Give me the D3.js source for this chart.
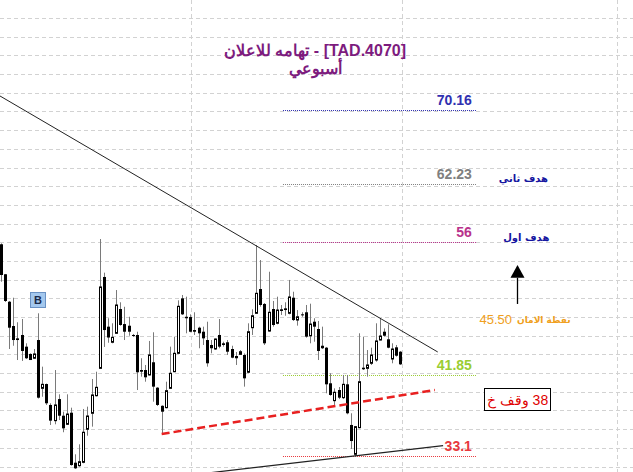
<!DOCTYPE html>
<html><head><meta charset="utf-8">
<script src="https://cdn.jsdelivr.net/npm/d3@7"></script>
<style>
html,body{margin:0;padding:0;background:#fff;}
svg{display:block;}
</style>
</head><body>
<svg id="c" width="633" height="472"></svg>
<script>
// ---------- data ----------
const openP  = [55.79,52.58,49.64,47.04,45.72,46.08,44.83,44.05,43.59,45.54,40.37,40.83,38.59,36.91,39.22,37.44,36.52,37.76,32.41,32.09,32.45,35.99,37.70,39.58,42.51,52.29,46.97,45.30,46.26,48.86,47.25,47.07,46.08,46.08,42.33,42.33,41.80,43.16,40.44,38.50,38.30,40.37,42.15,44.12,50.00,48.03,48.00,46.61,46.86,46.43,45.54,45.01,44.58,46.08,45.19,45.30,44.58,43.83,44.01,43.94,42.09,46.86,48.40,51.00,49.40,46.50,48.86,47.33,48.83,48.93,48.40,50.07,47.68,48.29,48.51,46.00,47.50,46.72,44.93,44.72,40.91,39.05,40.19,39.37,40.80,36.45,33.31,36.16,42.58,42.51,43.05,43.40,45.54,46.43,45.62,43.51,44.76,44.29];
const highP  = [55.89,52.61,49.72,50.07,47.44,47.79,45.19,44.12,44.58,48.40,42.69,40.88,38.77,42.33,39.73,37.87,39.73,38.30,33.31,34.38,38.16,38.41,41.37,42.15,56.35,52.75,47.87,47.33,50.89,49.58,49.10,48.03,46.19,46.43,43.59,42.87,45.44,46.37,40.50,38.55,41.08,44.83,45.90,49.79,50.36,50.18,48.29,48.51,46.97,46.97,47.50,45.54,45.70,47.79,45.36,45.54,44.93,44.26,44.47,44.10,47.33,48.83,55.71,54.10,49.50,52.85,49.72,50.18,49.29,49.58,51.97,50.71,48.75,48.51,49.29,49.43,47.87,47.58,46.97,44.79,41.98,40.37,40.51,41.80,41.80,37.70,36.34,46.26,45.90,44.47,44.72,47.33,47.79,46.79,47.22,45.19,45.01,44.37];
const lowP   = [51.78,49.61,44.58,44.93,43.40,43.30,43.51,43.40,43.51,39.28,39.47,38.59,36.45,36.52,36.98,35.67,36.45,32.09,31.74,31.98,32.35,35.30,36.27,39.50,42.45,44.80,45.25,45.19,46.20,47.07,45.54,46.00,45.87,40.19,41.62,41.08,41.75,38.94,38.48,35.45,38.23,40.30,42.10,44.05,48.22,46.26,46.37,46.08,44.66,45.01,42.69,44.12,44.50,44.66,44.83,43.94,43.59,42.87,43.94,40.55,42.00,46.08,48.35,49.11,45.01,46.43,46.97,47.22,48.22,48.14,48.29,47.58,47.08,48.03,45.79,45.19,45.36,43.40,44.58,39.84,39.58,38.59,39.22,39.22,37.59,33.88,33.05,36.10,42.33,41.62,42.87,43.22,45.50,45.90,44.66,43.05,43.76,42.87];
const closeP = [52.50,49.72,46.86,45.54,45.54,44.37,43.59,43.40,44.05,39.37,40.80,38.77,36.91,38.59,37.44,36.09,37.62,32.16,31.81,32.52,35.67,37.41,39.66,40.48,51.22,46.61,45.81,45.83,49.29,47.15,46.43,46.43,45.97,42.09,42.15,41.55,43.94,40.55,38.59,37.87,40.12,41.98,44.12,49.15,48.29,47.87,46.43,46.43,46.26,45.72,43.05,44.66,45.65,44.83,45.01,44.29,43.65,43.59,44.29,41.44,46.43,48.14,50.54,49.29,45.19,48.51,47.15,48.75,48.65,48.75,50.15,47.68,48.03,48.19,45.90,47.25,46.97,44.37,44.66,40.80,39.66,39.95,39.37,40.80,37.70,34.73,36.27,41.08,42.41,42.87,43.94,45.44,45.97,46.00,44.72,44.58,43.86,42.94];

const gridPrices = [32,34,36,38,40,42,44,46,48,50,52,54,56,58,60,62,64,66,68,70,72,74,76,78,80];
const vGridIdx = [46.08, 97.33, 149.55];

const levelValues = [70.16, 62.23, 56, 41.85, 33.1];
const levelLabels = ["70.16", "62.23", "56", "41.85", "33.1"];
const levelColors = ["#3030b0", "#808080", "#b8338c", "#9acd32", "#e8383d"];
const levelFrom = 68.5, levelTo = 115.6;

// trend lines: [index, price] pairs
const resistLine = [[-0.24, 71.66], [106.1, 44.26]];
const redDashLine = [[39.03, 35.48], [105.4, 40.19]];
const supportLine = [[45, 31.04], [107.4, 34.23]];

const titleLine1 = "[TAD.4070] - تهامه للاعلان";
const titleLine2 = "أسبوعي";

// ---------- scales ----------
const W = 633, H = 472;
const x = d3.scaleLinear().domain([0, 97]).range([1, 400.3]);
const y = d3.scaleLinear().domain([56, 70.16]).range([242.3, 110]);

const svg = d3.select("#c");
svg.append("rect").attr("width", W).attr("height", H).attr("fill", "#fff");

// grid
svg.append("g").selectAll("line").data(gridPrices).join("line")
  .attr("x1", 0).attr("x2", W)
  .attr("y1", d => Math.round(y(d)) + 0.5).attr("y2", d => Math.round(y(d)) + 0.5)
  .attr("stroke", "#d2d2d2").attr("stroke-dasharray", "4,3").attr("stroke-width", 1);
svg.append("g").selectAll("line").data(vGridIdx).join("line")
  .attr("x1", d => Math.round(x(d)) + 0.5).attr("x2", d => Math.round(x(d)) + 0.5)
  .attr("y1", 0).attr("y2", H)
  .attr("stroke", "#d2d2d2").attr("stroke-dasharray", "4,3").attr("stroke-width", 1);

// title
svg.append("text").attr("x", 315).attr("y", 56).attr("text-anchor", "middle").attr("direction", "rtl")
  .attr("font-family", "Liberation Sans, Arial, sans-serif").attr("font-size", 16).attr("font-weight", "bold")
  .attr("fill", "#7d1b7e").text(titleLine1);
svg.append("text").attr("x", 315).attr("y", 74).attr("text-anchor", "middle").attr("direction", "rtl")
  .attr("font-family", "Liberation Sans, Arial, sans-serif").attr("font-size", 16).attr("font-weight", "bold")
  .attr("fill", "#7d1b7e").text(titleLine2);

// level lines
const lv = svg.append("g");
levelValues.forEach((v, i) => {
  lv.append("line").attr("x1", x(levelFrom)).attr("x2", x(levelTo))
    .attr("y1", Math.round(y(v)) + 0.5).attr("y2", Math.round(y(v)) + 0.5)
    .attr("stroke", levelColors[i]).attr("stroke-width", 1).attr("stroke-dasharray", "1,1");
  lv.append("text").attr("x", x(levelTo) - 5).attr("y", y(v) - 5).attr("text-anchor", "end")
    .attr("font-family", "Liberation Sans, Arial, sans-serif").attr("font-size", 14).attr("font-weight", "bold")
    .attr("fill", levelColors[i]).text(levelLabels[i]);
});

// candles
const idx = d3.range(openP.length);
const cg = svg.append("g");
idx.forEach(i => {
  const cx = Math.round(x(i));
  const o = openP[i], c = closeP[i], h = highP[i], l = lowP[i];
  cg.append("line").attr("x1", cx + 0.5).attr("x2", cx + 0.5)
    .attr("y1", y(h)).attr("y2", y(l)).attr("stroke", "#7a7a7a").attr("stroke-width", 1);
  const top = y(Math.max(o, c)), bot = y(Math.min(o, c));
  if (c < o) {
    cg.append("rect").attr("x", cx - 1).attr("width", 3)
      .attr("y", top).attr("height", Math.max(1, bot - top)).attr("fill", "#000");
  } else {
    cg.append("rect").attr("x", cx - 0.5).attr("width", 2)
      .attr("y", top).attr("height", Math.max(1, bot - top))
      .attr("fill", "#fff").attr("stroke", "#000").attr("stroke-width", 1);
  }
});

// trend lines
const ln = d3.line().x(d => x(d[0])).y(d => y(d[1]));
svg.append("path").attr("d", ln(resistLine)).attr("fill", "none").attr("stroke", "#222").attr("stroke-width", 1);
svg.append("path").attr("d", ln(redDashLine)).attr("fill", "none").attr("stroke", "#e82020")
  .attr("stroke-width", 2.5).attr("stroke-dasharray", "8,4");
svg.append("path").attr("d", ln(supportLine)).attr("fill", "none").attr("stroke", "#222").attr("stroke-width", 1.2);

// B marker above candle 9
const bx = x(9), by = 300;
svg.append("rect").attr("x", Math.round(bx) - 7.5).attr("y", by - 7.5).attr("width", 15).attr("height", 15)
  .attr("fill", "#a4c8ee").attr("stroke", "#6a92c4");
svg.append("text").attr("x", Math.round(bx)).attr("y", by + 4).attr("text-anchor", "middle")
  .attr("font-family", "Liberation Sans, Arial, sans-serif").attr("font-size", 11).attr("font-weight", "bold")
  .attr("fill", "#1a2a4a").text("B");

// right annotations
svg.append("text").attr("x", x(126.9)).attr("y", y(62.23) - 2).attr("text-anchor", "middle")
  .attr("font-family", "DejaVu Sans, sans-serif").attr("font-size", 10).attr("font-weight", "bold")
  .attr("fill", "#1515a0").text("هدف ثاني");
svg.append("text").attr("x", x(127.6)).attr("y", y(56) - 1).attr("text-anchor", "middle")
  .attr("font-family", "DejaVu Sans, sans-serif").attr("font-size", 10).attr("font-weight", "bold")
  .attr("fill", "#1515a0").text("هدف اول");

// arrow
const ax = Math.round(x(125.3)) + 0.5;
svg.append("line").attr("x1", ax).attr("x2", ax).attr("y1", y(49.40)).attr("y2", y(52.2))
  .attr("stroke", "#000").attr("stroke-width", 1.3);
svg.append("path").attr("d", `M${ax},${y(53.57)} L${ax - 7},${y(52.2)} L${ax + 7},${y(52.2)} Z`).attr("fill", "#000");

// safety point
svg.append("text").attr("x", 512).attr("y", 324).attr("text-anchor", "end")
  .attr("font-family", "Liberation Sans, Arial, sans-serif").attr("font-size", 13)
  .attr("fill", "#f0a020").text("45.50");
svg.append("text").attr("x", 517).attr("y", 323).attr("text-anchor", "start")
  .attr("font-family", "DejaVu Sans, sans-serif").attr("font-size", 9).attr("font-weight", "bold")
  .attr("fill", "#f0a020").text("نقطة الامان");

// stop box
svg.append("rect").attr("x", 484.5).attr("y", 388.5).attr("width", 66).attr("height", 22)
  .attr("fill", "#fff").attr("stroke", "#000").attr("stroke-width", 1);
svg.append("text").attr("x", 517.5).attr("y", 405).attr("text-anchor", "middle").attr("direction", "rtl")
  .attr("font-family", "Liberation Sans, Arial, sans-serif").attr("font-size", 14)
  .attr("fill", "#e00000").text("38 وقف خ");
</script>
</body></html>
